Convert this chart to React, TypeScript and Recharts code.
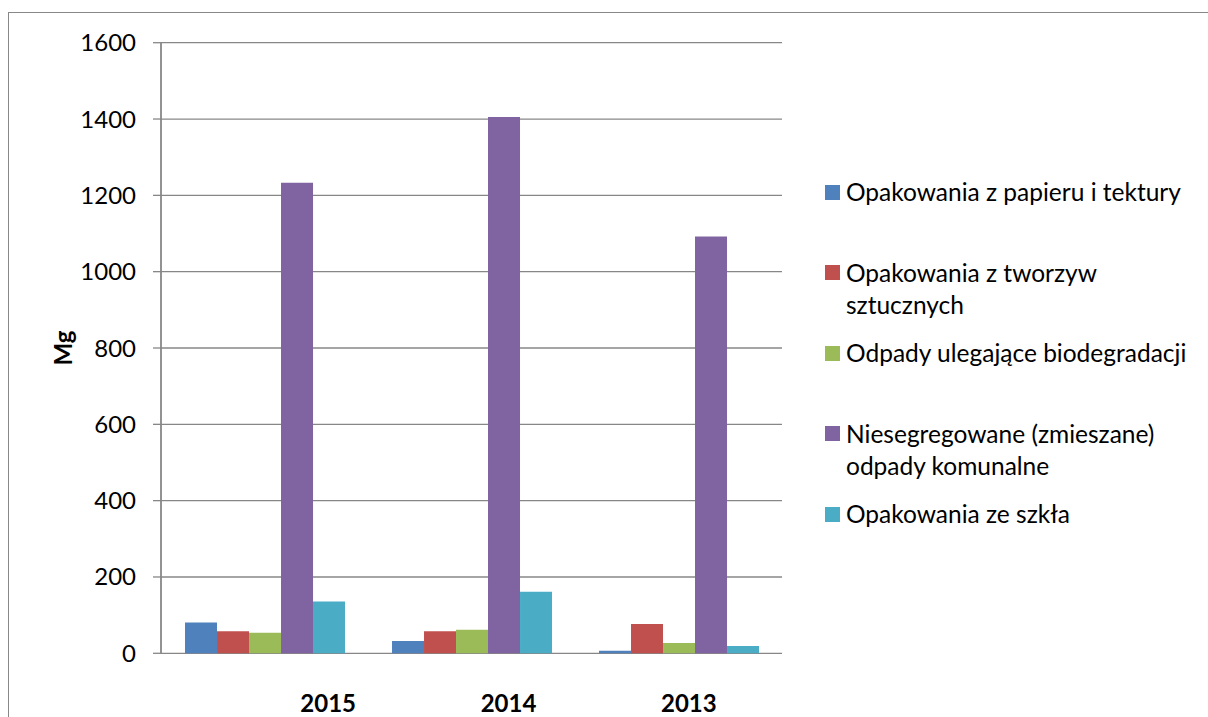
import React from 'react';
import { BarChart, Bar, XAxis, YAxis, CartesianGrid, Legend } from 'recharts';

const years = ['2015', '2014', '2013'];
const papier = [81, 32, 7];
const tworzywa = [58, 58, 77];
const bio = [54, 62, 27];
const zmieszane = [1233, 1405, 1092];
const szklo = [136, 161, 19];
const seriesKeys = ['s0', 's1', 's2', 's3', 's4'];
const seriesNames = [
  'Opakowania z papieru i tektury',
  'Opakowania z tworzyw sztucznych',
  'Odpady ulegające biodegradacji',
  'Niesegregowane (zmieszane) odpady komunalne',
  'Opakowania ze szkła',
];
const seriesColors = ['#4F81BD', '#C0504D', '#9BBB59', '#8064A2', '#4BACC6'];
const yTicks = [0, 200, 400, 600, 800, 1000, 1200, 1400, 1600];
const yLabel = 'Mg';

const data = years.map((y, i) => ({
  year: y,
  s0: papier[i],
  s1: tworzywa[i],
  s2: bio[i],
  s3: zmieszane[i],
  s4: szklo[i],
}));

const FONT = 'Lato, "Open Sans", sans-serif';
const GRID = '#878787';

const renderLegend = (props: any) => {
  const payload = [...(props.payload || [])].sort(
    (a: any, b: any) => seriesKeys.indexOf(a.dataKey) - seriesKeys.indexOf(b.dataKey)
  );
  return (
    <div style={{ fontFamily: FONT, fontSize: 24.5, color: '#000', lineHeight: '32px' }}>
      {payload.map((p: any, i: number) => (
        <div key={i} style={{ height: 80.5, display: 'flex', alignItems: 'flex-start' }}>
          <div style={{ width: 15, height: 15, background: p.color, marginTop: 8.5, flex: 'none' }} />
          <div style={{ marginLeft: 6, width: 356, textAlign: 'left' }}>{p.value}</div>
        </div>
      ))}
    </div>
  );
};

const MgLabel = (props: any) => {
  const vb = props.viewBox || { x: 0, y: 0, width: 0, height: 0 };
  const cx = vb.x + 62;
  const cy = vb.y + vb.height / 2;
  return (
    <text
      x={cx}
      y={cy}
      transform={`rotate(-90 ${cx} ${cy})`}
      textAnchor="middle"
      dominantBaseline="central"
      style={{ fontFamily: FONT, fontWeight: 700, fontSize: 24, fill: '#000' }}
    >
      {yLabel}
    </text>
  );
};

export default function App() {
  return (
    <div style={{ position: 'absolute', left: 0, top: 0, width: 1208, height: 717, overflow: 'hidden', background: '#fff' }}>
      <div
        style={{
          position: 'absolute',
          left: 8,
          top: 12,
          width: 1210,
          height: 760,
          border: '1.5px solid #888',
          boxSizing: 'border-box',
        }}
      />
      <div style={{ position: 'absolute', left: 0, top: 0 }}>
        <BarChart
          width={1208}
          height={717}
          data={data}
          margin={{ top: 42.7, right: 426, bottom: 0, left: 0 }}
          barCategoryGap="11.6%"
          barGap={0}
          style={{ fontFamily: FONT }}
        >
          <CartesianGrid horizontal vertical={false} stroke={GRID} strokeWidth={1.3} />
          <XAxis
            xAxisId="main"
            dataKey="year"
            height={0}
            tick={false}
            tickLine={false}
            axisLine={{ stroke: GRID, strokeWidth: 1.8 }}
          />
          <XAxis
            xAxisId="lab"
            dataKey="year"
            height={63.7}
            axisLine={false}
            tickLine={false}
            tickSize={0}
            tickMargin={42}
            padding={{ left: 77, right: 3 }}
            interval={0}
            tick={{ fill: '#000', fontSize: 24, fontWeight: 700, fontFamily: FONT }}
          />
          <YAxis
            width={161}
            domain={[0, 1600]}
            ticks={yTicks}
            interval={0}
            tickSize={8}
            tickMargin={17}
            axisLine={{ stroke: GRID, strokeWidth: 1.8 }}
            tickLine={{ stroke: GRID, strokeWidth: 1.3 }}
            tick={{ fill: '#000', fontSize: 24, fontFamily: FONT }}
            label={<MgLabel />}
          />
          <Legend
            layout="horizontal"
            verticalAlign="middle"
            align="center"
            content={renderLegend}
            wrapperStyle={{ left: 825, top: 176, width: 383 }}
          />
          {seriesKeys.map((k, i) => (
            <Bar
              key={k}
              xAxisId="main"
              dataKey={k}
              name={seriesNames[i]}
              fill={seriesColors[i]}
              isAnimationActive={false}
            />
          ))}
        </BarChart>
      </div>
    </div>
  );
}
